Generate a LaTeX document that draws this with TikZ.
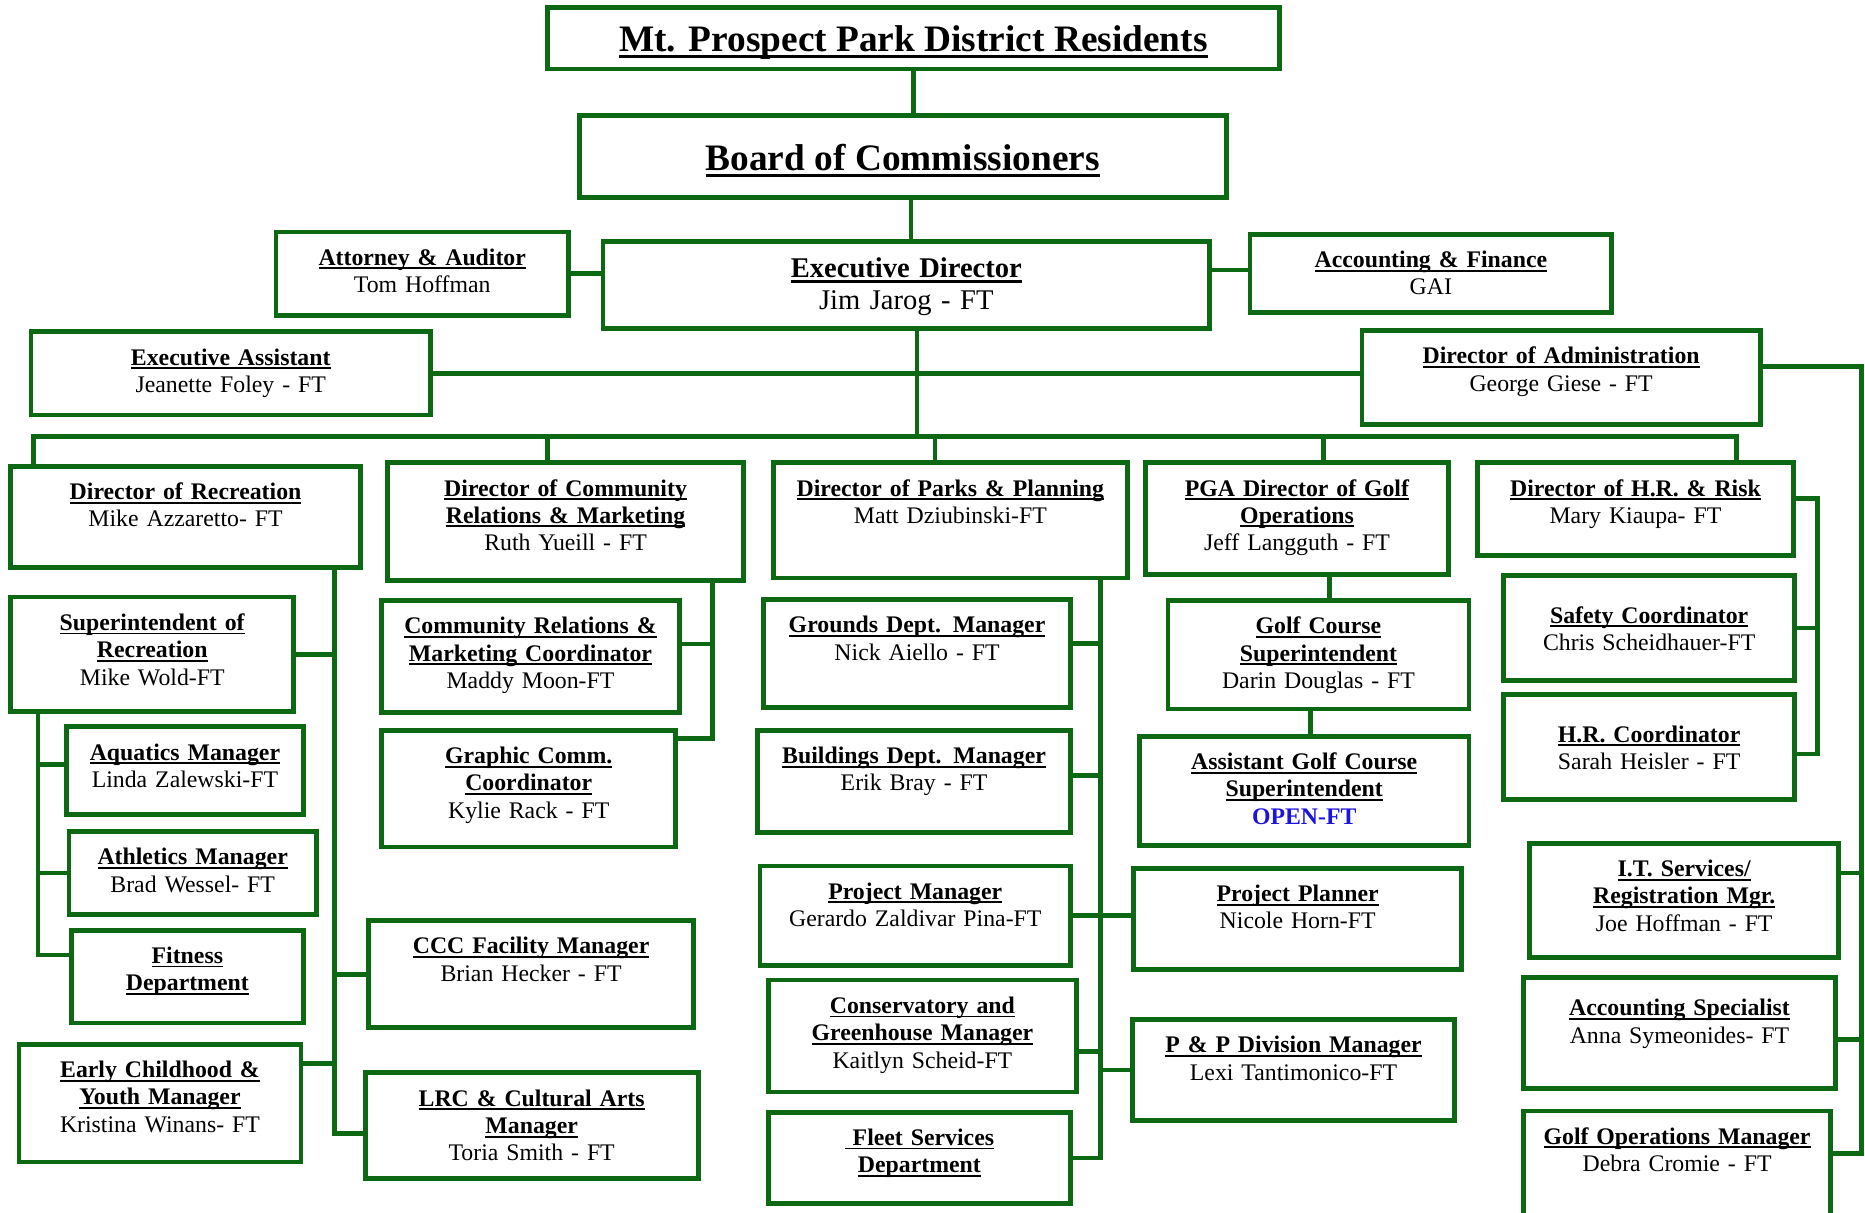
\documentclass[tikz,border=0pt]{standalone}
\usepackage{fontspec}
\setmainfont{Liberation Serif}
\usepackage{tikz}

\definecolor{parkgreen}{RGB}{12,104,18}
\definecolor{openblue}{RGB}{30,20,225}

\newsavebox\ulbox
\newcommand{\ul}[1]{\leavevmode\sbox\ulbox{#1}\rlap{\rule[-0.17em]{\wd\ulbox}{0.08em}}\usebox\ulbox}
\newcommand{\head}[1]{\ul{\textbf{#1}}}
\newcommand{\firstline}{14pt}

\tikzset{
  unit/.style 2 args={draw=parkgreen, line width=2pt, anchor=north west, inner sep=0pt, outer sep=0pt,
    align=center, text width=#1*0.5pt, text height=\firstline, text depth=#2*0.5pt-\firstline,
    font=\fontsize{10}{11.5}\selectfont},
  first line/.code={\renewcommand{\firstline}{#1}},
  title/.style 2 args={draw=parkgreen, line width=2pt, anchor=north west, inner sep=0pt, outer sep=0pt,
    minimum width=#1*0.5pt, minimum height=#2*0.5pt, text height=15pt, text depth=3.4pt,
    font=\bfseries\fontsize{15.7}{18}\selectfont},
  link/.style={draw=parkgreen, line width=2pt},
}

\begin{document}
\begin{tikzpicture}[x=0.5pt, y=-0.5pt]
\useasboundingbox (0,0) rectangle (1568,1019);

% Top
\node[title={616}{52}] (residents) at (460,6) {\ul{Mt. Prospect Park District Residents}};
\node[title={544}{69}] (board) at (487,97) {\ul{Board of Commissioners}};
\node[unit={246}{70}] (attorney) at (232,195) {\head{Attorney \& Auditor}\\Tom Hoffman};
\node[unit={510}{73}, first line=15.3pt, font=\fontsize{12}{13.5}\selectfont] (eddir) at (507,203) {\head{Executive Director}\\Jim Jarog - FT};
\node[unit={304}{66}] (accfin) at (1051,197) {\head{Accounting \& Finance}\\GAI};
\node[unit={336}{70}] (execasst) at (26,279) {\head{Executive Assistant}\\Jeanette Foley - FT};
\node[unit={335}{79}] (admindir) at (1145,278) {\head{Director of Administration}\\George Giese - FT};

% Directors
\node[unit={294}{85}] (recdir) at (9,392) {\head{Director of Recreation}\\Mike Azzaretto- FT};
\node[unit={299}{99}] (commdir) at (326,389) {\head{Director of Community}\\\head{Relations \& Marketing}\\Ruth Yueill - FT};
\node[unit={298}{97}] (parksdir) at (650,389) {\head{Director of Parks \& Planning}\\Matt Dziubinski-FT};
\node[unit={255}{94}] (pgadir) at (963,389) {\head{PGA Director of Golf}\\\head{Operations}\\Jeff Langguth - FT};
\node[unit={266}{78}] (hrdir) at (1242,389) {\head{Director of H.R. \& Risk}\\Mary Kiaupa- FT};

% Recreation
\node[unit={238}{96}] (supt) at (9,502) {\head{Superintendent of}\\\head{Recreation}\\Mike Wold-FT};
\node[unit={199}{74}] (aquatics) at (56,611) {\head{Aquatics Manager}\\Linda Zalewski-FT};
\node[unit={208}{70}] (athletics) at (58,699) {\head{Athletics Manager}\\Brad Wessel- FT};
\node[unit={195}{78}] (fitness) at (60,782) {\head{Fitness}\\\head{Department}};
\node[unit={237}{99}] (earlych) at (16,878) {\head{Early Childhood \&}\\\head{Youth Manager}\\Kristina Winans- FT};
\node[unit={273}{90}] (ccc) at (310,774) {\head{CCC Facility Manager}\\Brian Hecker - FT};
\node[unit={280}{89}] (lrc) at (307,902) {\head{LRC \& Cultural Arts}\\\head{Manager}\\Toria Smith - FT};

% Community relations
\node[unit={250}{94}] (crmc) at (321,505) {\head{Community Relations \&}\\\head{Marketing Coordinator}\\Maddy Moon-FT};
\node[unit={247}{98}] (graphic) at (321,614) {\head{Graphic Comm.}\\\head{Coordinator}\\Kylie Rack - FT};

% Parks
\node[unit={258}{91}] (grounds) at (642,504) {\head{Grounds Dept. Manager}\\Nick Aiello - FT};
\node[unit={263}{86}] (buildings) at (637,614) {\head{Buildings Dept. Manager}\\Erik Bray - FT};
\node[unit={261}{84}] (projmgr) at (639,728) {\head{Project Manager}\\Gerardo Zaldivar Pina-FT};
\node[unit={259}{94}] (conserv) at (646,824) {\head{Conservatory and}\\\head{Greenhouse Manager}\\Kaitlyn Scheid-FT};
\node[unit={254}{77}] (fleet) at (646,935) {\head{\ Fleet Services}\\\head{Department}};
\node[unit={276}{85}] (planner) at (953,730) {\head{Project Planner}\\Nicole Horn-FT};
\node[unit={271}{85}] (ppdiv) at (952,857) {\head{P \& P Division Manager}\\Lexi Tantimonico-FT};

% Golf
\node[unit={253}{91}] (golfsup) at (982,505) {\head{Golf Course}\\\head{Superintendent}\\Darin Douglas - FT};
\node[unit={277}{92}] (asstgolf) at (958,619) {\head{Assistant Golf Course}\\\head{Superintendent}\\\textbf{\color{openblue}OPEN-FT}};

% H.R. and administration
\node[unit={245}{88}, first line=20pt] (safety) at (1264,484) {\head{Safety Coordinator}\\Chris Scheidhauer-FT};
\node[unit={245}{88}, first line=20pt] (hrcoord) at (1264,584) {\head{H.R. Coordinator}\\Sarah Heisler - FT};
\node[unit={260}{96}] (itmgr) at (1286,709) {\head{I.T. Services/}\\\head{Registration Mgr.}\\Joe Hoffman - FT};
\node[unit={262}{93}, first line=16pt] (accspec) at (1281,822) {\head{Accounting Specialist}\\Anna Symeonides- FT};
\node[unit={258}{100}] (golfops) at (1281,934) {\head{Golf Operations Manager}\\Debra Cromie - FT};

% Top links
\draw[link] (residents.south) -- (residents.south |- board.north);
\draw[link] ([xshift=-1pt]residents.south |- board.south) -- ([xshift=-1pt]residents.south |- eddir.north);
\draw[link] (attorney.east) -- (attorney.east -| eddir.west);
\draw[link] ([yshift=1.5pt]accfin.west) -- ([yshift=1.5pt]accfin.west -| eddir.east);
\draw[link] (execasst.east) -- (execasst.east -| admindir.west);

% Bus to directors
\coordinate (bus) at ([xshift=4.5pt, yshift=-45.5pt]eddir.south);
\draw[link] ([xshift=4.5pt]eddir.south) -- (bus);
\draw[link] ([xshift=9.5pt]recdir.north west) |- (bus) -| ([xshift=-24pt]hrdir.north east);
\draw[link] ([xshift=-7.75pt]commdir.north) -- ([xshift=-7.75pt]commdir.north |- bus);
\draw[link] ([xshift=-6.5pt]parksdir.north) -- ([xshift=-6.5pt]parksdir.north |- bus);
\draw[link] ([xshift=11.25pt]pgadir.north) -- ([xshift=11.25pt]pgadir.north |- bus);

% Recreation links
\coordinate (recline) at ([xshift=-11pt]recdir.south east);
\draw[link] (recline) |- ([yshift=-3.25pt]lrc.west);
\draw[link] (supt.east) -- (supt.east -| recline);
\draw[link] (ccc.west) -- (ccc.west -| recline);
\draw[link] ([yshift=16.75pt]earlych.east) -- ([yshift=16.75pt]earlych.east -| recline);
\coordinate (suptline) at ([xshift=11.5pt]supt.south west);
\draw[link] (suptline) |- ([yshift=9pt]fitness.west);
\draw[link] ([yshift=2.5pt]aquatics.west) -- ([yshift=2.5pt]aquatics.west -| suptline);
\draw[link] (athletics.west) -- (athletics.west -| suptline);

% Community links
\coordinate (commline) at ([xshift=-13pt]commdir.south east);
\draw[link] (commline) |- ([yshift=21pt]graphic.east);
\draw[link] ([yshift=5.25pt]crmc.east) -- ([yshift=5.25pt]crmc.east -| commline);

% Parks links
\coordinate (parksline) at ([xshift=-11.5pt]parksdir.south east);
\draw[link] (parksline) |- (fleet.east);
\draw[link] ([yshift=4.25pt]grounds.east) -- ([yshift=4.25pt]grounds.east -| parksline);
\draw[link] ([yshift=2.5pt]buildings.east) -- ([yshift=2.5pt]buildings.east -| parksline);
\draw[link] (projmgr.east) -- (projmgr.east -| planner.west);
\draw[link] ([yshift=-6.5pt]conserv.east) -- ([yshift=-6.5pt]conserv.east -| parksline);
\draw[link] (ppdiv.west) -- (ppdiv.west -| parksline);

% Golf links
\draw[link] ([xshift=13.75pt]pgadir.south) -- ([xshift=13.75pt]pgadir.south |- golfsup.north);
\draw[link] ([xshift=-3.5pt]golfsup.south) -- ([xshift=-3.5pt]golfsup.south |- asstgolf.north);

% H.R. links
\coordinate (hrline) at ([xshift=10pt, yshift=4.5pt]hrdir.east);
\draw[link] ([yshift=4.5pt]hrdir.east) -- (hrline) |- ([yshift=-3pt]hrcoord.east);
\draw[link] (safety.east) -- (safety.east -| hrline);

% Administration links
\coordinate (adminline) at ([xshift=42.5pt, yshift=4.75pt]admindir.east);
\draw[link] ([yshift=4.75pt]admindir.east) -- (adminline) |- ([yshift=7pt]golfops.east);
\draw[link] ([yshift=11.5pt]itmgr.east) -- ([yshift=11.5pt]itmgr.east -| adminline);
\draw[link] ([yshift=-2.75pt]accspec.east) -- ([yshift=-2.75pt]accspec.east -| adminline);
\end{tikzpicture}
\end{document}
